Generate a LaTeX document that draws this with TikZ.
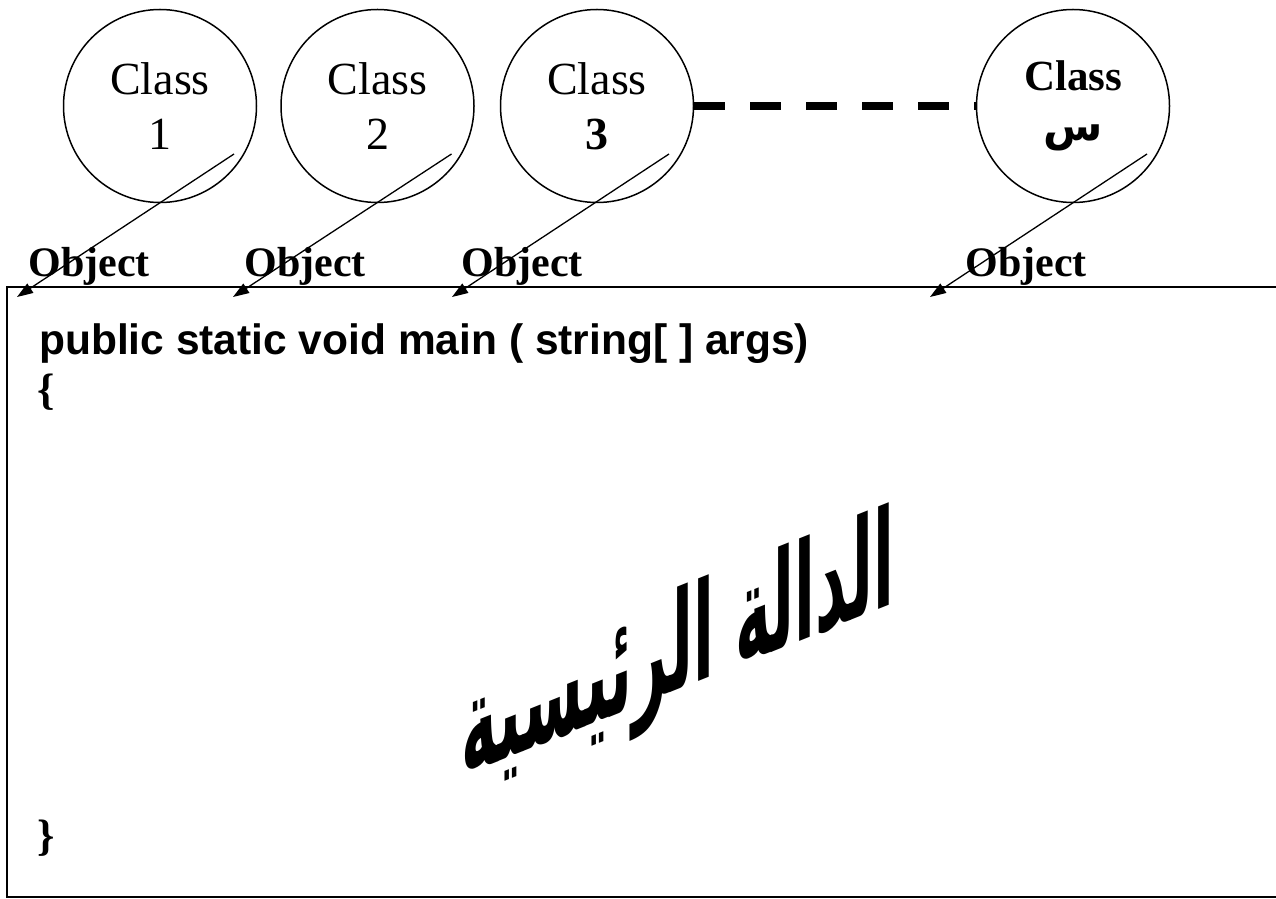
\documentclass[tikz,border=0pt]{standalone}
\usepackage{fontspec}
\setmainfont{Liberation Serif}
\setsansfont{Liberation Sans}
\newfontfamily\arabicfont[Script=Arabic]{DejaVu Sans}
\TeXXeTstate=1
\usetikzlibrary{positioning,arrows.meta,calc}

\tikzset{
  cls/.style={draw, circle, line width=1.5pt, minimum size=193pt, inner sep=0pt,
    align=center, font=\fontsize{46}{55}\selectfont},
  obj/.style={font=\bfseries\fontsize{42}{48}\selectfont, anchor=base},
  inst/.style={-{Triangle[length=16pt,width=11pt]}, line width=1.3pt},
  code/.style={font=\sffamily\bfseries\fontsize{42.5}{50}\selectfont, anchor=base west, inner sep=0pt},
  brace/.style={font=\bfseries\fontsize{44}{50}\selectfont, anchor=base west, inner sep=0pt},
}

\begin{document}
\begin{tikzpicture}[x=1pt,y=1pt]

  \useasboundingbox (0,0) rectangle (1276,898);
  \clip (0,0) rectangle (1276,898);

  \node[cls] (c1) at (160,792) {Class\\1};
  \node[cls] (c2) [right=23pt of c1] {Class\\2};
  \node[cls] (c3) [right=25pt of c2] {Class\\\textbf{3}};
  \node[cls, font=\bfseries\fontsize{43}{50}\selectfont] (c4) at (1073,792) {Class\\{\arabicfont\beginR س\endR}};

  \draw[line width=8.5pt, dash pattern=on 31pt off 25pt] (c3.east) -- (c4.west);

  \node[obj] (o1) at (89,621) {Object};
  \node[obj] (o2) at (305,621) {Object};
  \node[obj] (o3) at (522,621) {Object};
  \node[obj] (o4) at (1026,621) {Object};

  \node[draw, line width=2pt, anchor=north west, minimum width=1300pt,
    minimum height=610pt, inner sep=0pt] (box) at (6,612) {};

  \coordinate (s1) at ($(c1.center)+(74,-48)$);
  \coordinate (s2) at ($(c2.center)+(74,-48)$);
  \coordinate (s3) at ($(c3.center)+(72,-48)$);
  \coordinate (s4) at ($(c4.center)+(74,-48)$);
  \coordinate (e1) at (17,601);
  \coordinate (e2) at (233,601);
  \coordinate (e3) at (452,601);
  \coordinate (e4) at (930,601);

  \path[inst] (s1) edge (e1);
  \path[inst] (s2) edge (e2);
  \path[inst] (s3) edge (e3);
  \path[inst] (s4) edge (e4);

  \node[code] (sig) at (39,543) {public static void main ( string[ ] args)};
  \node[brace] (open) at (37,493) {\{};
  \node[brace] (close) at (37,48) {\}};

  \begin{scope}[shift={(678,243)}, yslant=0.4, xscale=0.45]
    \node[transform shape, font=\arabicfont\bfseries\fontsize{135}{140}\selectfont] (title) at (0,0) {\beginR الدالة الرئيسية\endR};
  \end{scope}

\end{tikzpicture}
\end{document}
